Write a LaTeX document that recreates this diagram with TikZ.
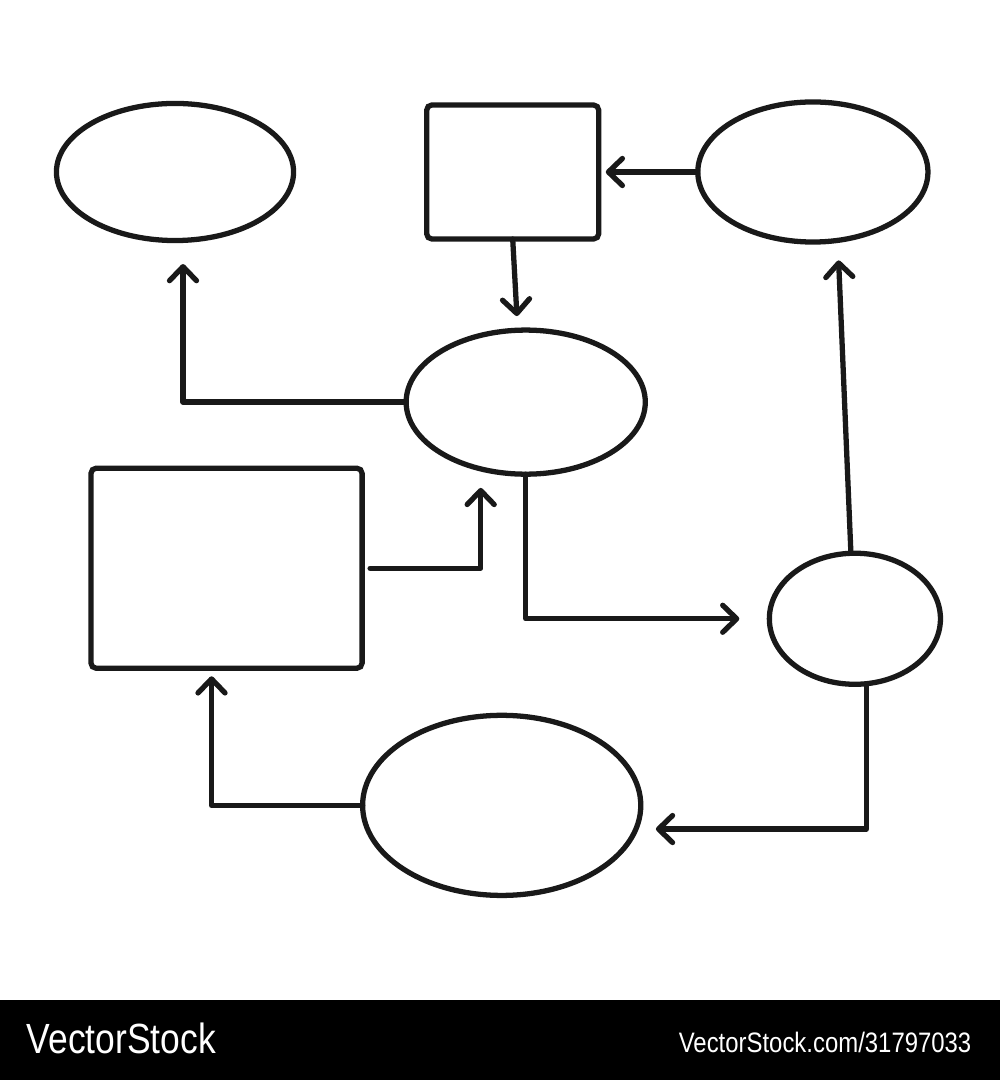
\documentclass[tikz,border=0pt]{standalone}
\usepackage{fontspec}
\newfontfamily\wmfont{Liberation Sans}
\usetikzlibrary{positioning, shapes, arrows.meta}

\begin{document}
\begin{tikzpicture}[x=0.01cm, y=-0.01cm,
        blob/.style={draw=black!90, ellipse, line width=1.5pt, inner sep=0pt, outer sep=0pt},
        box/.style={draw=black!90, rectangle, line width=1.5pt, inner sep=0pt, outer sep=0pt, rounded corners=1.5pt},
        flow/.style={draw=black!90, line width=1.5pt, line cap=round, line join=round, -{Straight Barb[length=0.14cm, width=0.27cm, round]}}]
        \useasboundingbox (0,0) rectangle (1000,1080);
        \node[blob, minimum width=2.37cm, minimum height=1.37cm] (idea) at (175,172) {};
        \node[box, minimum width=1.72cm, minimum height=1.34cm, right=1.33cm of idea] (task) {};
        \node[blob, minimum width=2.30cm, minimum height=1.40cm, right=0.99cm of task] (source) {};
        \node[blob, minimum width=2.39cm, minimum height=1.44cm, below=0.91cm of task, xshift=0.13cm] (mid) {};
        \node[box, minimum width=2.71cm, minimum height=2.00cm, left=0.44cm of mid, yshift=-1.66cm] (plan) {};
        \node[blob, minimum width=1.71cm, minimum height=1.31cm, below=3.11cm of source, xshift=0.42cm] (ring) {};
        \node[blob, minimum width=2.78cm, minimum height=1.80cm, below=2.41cm of mid, xshift=-0.24cm] (bot) {};
        %---------------------------
        \draw[flow, shorten >=0.235cm] (mid.west) -| ([xshift=0.08cm]idea.south);
        \draw[flow, shorten >=0.14cm] (task.south) -- ([xshift=-0.08cm]mid.north);
        \draw[flow, shorten >=0.07cm] (source.west) -- (task.east);
        \draw[flow, shorten >=0.19cm] ([xshift=0.08cm]plan.east) -| (mid.236);
        \draw[flow, shorten >=0.30cm] (mid.south) |- (ring.west);
        \draw[flow, shorten >=0.20cm] ([xshift=-0.04cm]ring.north) -- (source.290);
        \draw[flow, shorten >=0.20cm] (ring.-80) |- (bot.-10);
        \draw[flow, shorten >=0.08cm] (bot.west) -| ([xshift=-0.15cm]plan.south);
        %--------------------------
        \fill (0,1000) rectangle (1000,1080);
        \node[anchor=base west, text=white, inner sep=0pt] (brand) at (26,1053) {\wmfont\fontsize{12}{14}\selectfont\scalebox{0.84}[1]{VectorStock}};
        \node[anchor=base east, text=white, inner sep=0pt] (ref) at (972,1052) {\wmfont\fontsize{8}{10}\selectfont\scalebox{0.85}[1]{VectorStock.com/31797033}};
\end{tikzpicture}
\end{document}
